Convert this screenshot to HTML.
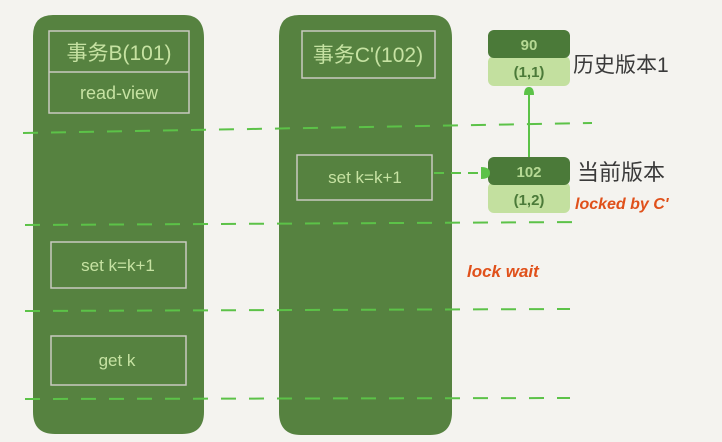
<!DOCTYPE html>
<html><head><meta charset="utf-8">
<style>
html,body{margin:0;padding:0;background:#f4f3ef;}
svg{display:block;}
text{font-family:"Liberation Sans","Noto Sans CJK SC",sans-serif;}
</style></head>
<body>
<svg width="722" height="442" viewBox="0 0 722 442" xmlns="http://www.w3.org/2000/svg">
<rect width="722" height="442" fill="#f4f3ef"/>
<!-- Column B -->
<path d="M53,15 L184,15 Q204,15 204,38 L204,412 Q204,434 182,434 L55,434 Q33,434 33,412 L33,36 Q33,15 53,15 Z" fill="#568240"/>
<!-- Column C -->
<path d="M299,15 L432,15 Q452,15 452,38 L452,412 Q452,435 430,435 L301,435 Q279,435 279,412 L279,36 Q279,15 299,15 Z" fill="#568240"/>

<!-- B header box -->
<rect x="49" y="31" width="140" height="82" fill="none" stroke="#c9c9c0" stroke-width="1.5"/>
<line x1="49" y1="72" x2="189" y2="72" stroke="#c9c9c0" stroke-width="1.5"/>
<text x="119" y="60" font-size="21" fill="#c6e2a2" text-anchor="middle">事务B(101)</text>
<text x="119" y="99" font-size="18" fill="#c6e2a2" text-anchor="middle">read-view</text>

<!-- C header box -->
<rect x="302" y="31" width="133" height="47" fill="none" stroke="#c9c9c0" stroke-width="1.5"/>
<text x="368" y="62" font-size="21" fill="#c6e2a2" text-anchor="middle">事务C'(102)</text>

<!-- C set box -->
<rect x="297" y="155" width="135" height="45" fill="none" stroke="#c9c9c0" stroke-width="1.5"/>
<text x="365" y="183" font-size="17" fill="#c6e2a2" text-anchor="middle">set k=k+1</text>

<!-- B set box -->
<rect x="51" y="242" width="135" height="46" fill="none" stroke="#c9c9c0" stroke-width="1.5"/>
<text x="118" y="271" font-size="17" fill="#c6e2a2" text-anchor="middle">set k=k+1</text>

<!-- B get box -->
<rect x="51" y="336" width="135" height="49" fill="none" stroke="#c9c9c0" stroke-width="1.5"/>
<text x="117" y="366" font-size="17" fill="#c6e2a2" text-anchor="middle">get k</text>

<!-- dashed lines -->
<g stroke="#5cc248" stroke-width="2" stroke-dasharray="15 13" fill="none">
<line x1="23" y1="133" x2="592" y2="123"/>
<line x1="25" y1="225" x2="585" y2="222"/>
<line x1="25" y1="311" x2="570" y2="309"/>
<line x1="25" y1="399" x2="570" y2="398"/>
<line x1="434" y1="173" x2="482" y2="173" stroke-dasharray="10 7"/>
</g>

<!-- version nodes -->
<rect x="488" y="56" width="82" height="30" rx="6" fill="#c3e09f"/>
<rect x="488" y="30" width="82" height="28" rx="6" fill="#4b7a39"/>
<text x="529" y="50" font-size="15" font-weight="bold" fill="#b6d994" text-anchor="middle">90</text>
<text x="529" y="77" font-size="15" font-weight="bold" fill="#4b7a39" text-anchor="middle">(1,1)</text>

<rect x="488" y="182" width="82" height="31" rx="6" fill="#c3e09f"/>
<rect x="488" y="157" width="82" height="28" rx="6" fill="#4b7a39"/>
<text x="529" y="177" font-size="15" font-weight="bold" fill="#b6d994" text-anchor="middle">102</text>
<text x="529" y="205" font-size="15" font-weight="bold" fill="#4b7a39" text-anchor="middle">(1,2)</text>

<!-- vertical connector -->
<line x1="529" y1="157" x2="529" y2="92" stroke="#5cc248" stroke-width="2"/>
<path d="M524,95 Q524,87 529,87 Q534,87 534,95 Z" fill="#5cc248"/>
<!-- arrow to 102 -->
<path d="M481,167 Q490,167 490,173 Q490,179 481,179 Z" fill="#5cc248"/>

<!-- labels -->
<text x="573" y="72" font-size="21" fill="#3a3a3a">历史版本1</text>
<text x="577" y="180" font-size="22" fill="#3a3a3a">当前版本</text>
<text x="575" y="209" font-size="16" font-weight="bold" fill="#e0501a" font-style="italic">locked by C'</text>
<text x="467" y="277" font-size="17" font-weight="bold" fill="#e0501a" font-style="italic">lock wait</text>
</svg>
</body></html>
